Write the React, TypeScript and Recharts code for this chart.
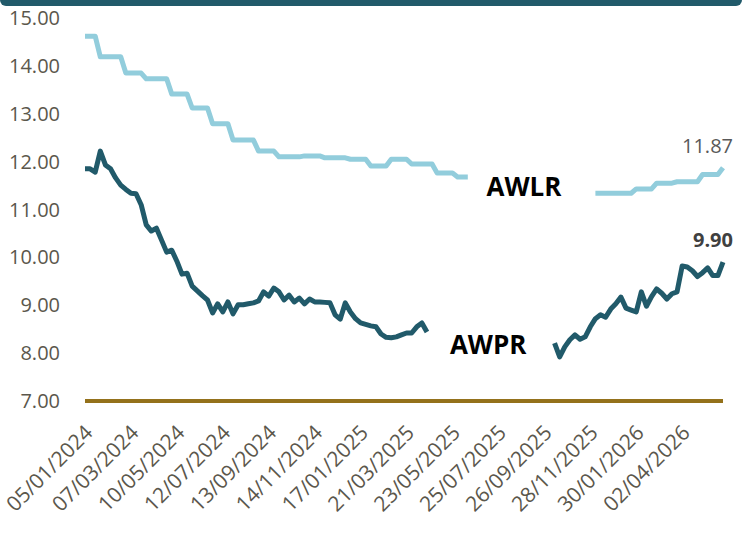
import React from 'react';
import { LineChart, Line, XAxis, YAxis, ReferenceDot } from 'recharts';

// weekly points, 05/01/2024 onward; null = no data that week
const tickLabels = [
  '05/01/2024', '07/03/2024', '10/05/2024', '12/07/2024', '13/09/2024', '14/11/2024', '17/01/2025',
  '21/03/2025', '23/05/2025', '25/07/2025', '26/09/2025', '28/11/2025', '30/01/2026', '02/04/2026',
];

const awprValues: (number | null)[] = [
  11.85, 11.85, 11.78, 12.22, 11.93, 11.85, 11.66, 11.51, 11.42, 11.34,
  11.33, 11.10, 10.68, 10.55, 10.61, 10.36, 10.11, 10.15, 9.92, 9.65,
  9.67, 9.40, 9.30, 9.20, 9.11, 8.84, 9.03, 8.86, 9.07, 8.82,
  9.01, 9.01, 9.03, 9.05, 9.09, 9.28, 9.19, 9.36, 9.28, 9.11,
  9.21, 9.07, 9.15, 9.03, 9.13, 9.07, 9.07, 9.06, 9.05, 8.80,
  8.71, 9.05, 8.86, 8.72, 8.63, 8.60, 8.57, 8.55, 8.40, 8.33,
  8.32, 8.34, 8.38, 8.42, 8.42, 8.55, 8.63, 8.44,
  null, null, null, null, null, null, null, null, null, null, null, null,
  null, null, null, null, null, null, null, null, null, null, null, null,
  8.21, 7.92, 8.13, 8.28, 8.38, 8.29, 8.34, 8.55, 8.72, 8.80,
  8.75, 8.92, 9.03, 9.17, 8.94, 8.90, 8.86, 9.28, 8.98, 9.18,
  9.34, 9.25, 9.13, 9.24, 9.28, 9.82, 9.80, 9.72, 9.60, 9.68,
  9.78, 9.62, 9.62, 9.90,
];

const awlrValues: (number | null)[] = [
  14.62, 14.62, 14.62,
  14.19, 14.19, 14.19, 14.19, 14.19,
  13.85, 13.85, 13.85, 13.85,
  13.73, 13.73, 13.73, 13.73, 13.73,
  13.41, 13.41, 13.41, 13.41,
  13.12, 13.12, 13.12, 13.12,
  12.79, 12.79, 12.79, 12.79,
  12.45, 12.45, 12.45, 12.45, 12.45,
  12.22, 12.22, 12.22, 12.22,
  12.10, 12.10, 12.10, 12.10, 12.10,
  12.12, 12.12, 12.12, 12.12,
  12.08, 12.08, 12.08, 12.08, 12.08,
  12.05, 12.05, 12.05, 12.05,
  11.91, 11.91, 11.91, 11.91,
  12.05, 12.05, 12.05, 12.05,
  11.95, 11.95, 11.95, 11.95, 11.95,
  11.76, 11.76, 11.76, 11.76,
  11.68, 11.68, 11.68,
  null, null, null, null, null, null, null, null, null, null, null, null,
  null, null, null, null, null, null, null, null, null, null, null, null,
  11.34, 11.34, 11.34, 11.34, 11.34, 11.34, 11.34, 11.34,
  11.43, 11.43, 11.43, 11.43,
  11.55, 11.55, 11.55, 11.55,
  11.58, 11.58, 11.58, 11.58, 11.58,
  11.73, 11.73, 11.73, 11.73,
  11.87,
];

const yTicks = [7, 8, 9, 10, 11, 12, 13, 14, 15];

const FONT = '"Open Sans", sans-serif';
const TEXT = '#5b574c';
const LAST = awprValues.length - 1;

const XTick = ({ x, y, payload }: any) => (
  <g transform={`translate(${x + 9},${y + 25})`}>
    <text textAnchor="end" transform="rotate(-45)" fill={TEXT} fontSize={21} fontFamily={FONT}>
      {tickLabels[payload.value / 9]}
    </text>
  </g>
);

const endLabel = (color: string, bold: boolean) => (p: any) =>
  p.index === LAST ? (
    <text x={p.x + 10} y={p.y - 15} textAnchor="end" fill={color} fontSize={20}
      fontWeight={bold ? 700 : 400} fontFamily={FONT}>
      {Number(p.value).toFixed(2)}
    </text>
  ) : null;

export default function App() {
  const data = awprValues.map((v, i) => ({ week: i, awpr: v, awlr: awlrValues[i] }));

  return (
    <div style={{ position: 'absolute', left: 0, top: 0, width: 742, height: 536, background: '#fff' }}>
      <div style={{
        position: 'absolute', left: 0, top: 0, width: 742, height: 6, background: '#215a6a',
        borderBottomLeftRadius: 8, borderBottomRightRadius: 8,
      }} />
      <LineChart width={742} height={536} data={data} margin={{ top: 18, right: 19, left: 0, bottom: 10 }}>
        <XAxis
          dataKey="week" type="number" domain={[0, 125]}
          ticks={tickLabels.map((_, i) => i * 9)}
          tick={<XTick />} tickLine={false} height={125}
          axisLine={{ stroke: '#94711b', strokeWidth: 4 }}
        />
        <YAxis
          domain={[7, 15]} ticks={yTicks} width={85} axisLine={false} tickLine={false} tickMargin={19}
          tickFormatter={(v: number) => v.toFixed(2)}
          tick={{ fill: TEXT, fontSize: 20, fontFamily: FONT }}
        />
        <Line dataKey="awlr" stroke="#92cddc" strokeWidth={5} dot={false} type="linear"
          isAnimationActive={false} strokeLinejoin="round" label={endLabel('#595959', false)} />
        <Line dataKey="awpr" stroke="#215a6a" strokeWidth={5} dot={false} type="linear"
          isAnimationActive={false} strokeLinejoin="round" label={endLabel('#404040', true)} />
        <ReferenceDot x={86} y={11.47} r={0} fill="none" stroke="none"
          label={{ value: 'AWLR', position: 'center', fill: '#000', fontSize: 26, fontWeight: 700, fontFamily: FONT }} />
        <ReferenceDot x={79} y={8.17} r={0} fill="none" stroke="none"
          label={{ value: 'AWPR', position: 'center', fill: '#000', fontSize: 26, fontWeight: 700, fontFamily: FONT }} />
      </LineChart>
    </div>
  );
}
